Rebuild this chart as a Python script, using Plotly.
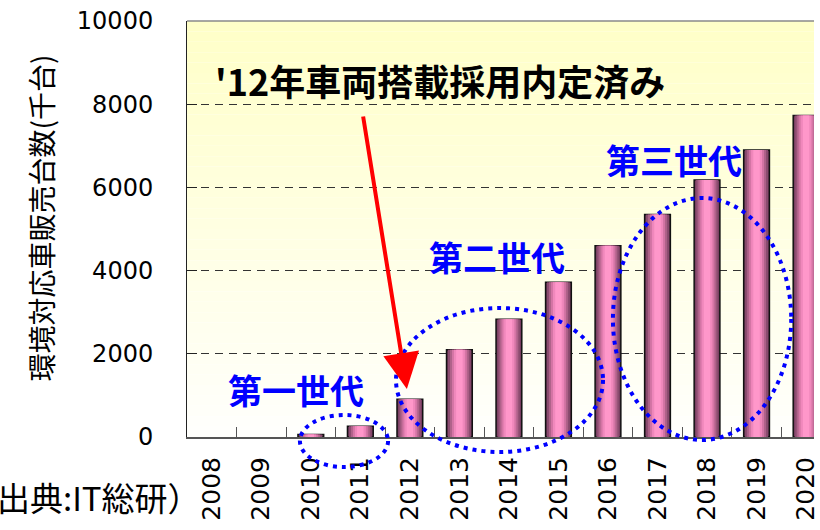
import plotly.graph_objects as go

years = ["2008", "2009", "2010", "2011", "2012", "2013", "2014",
         "2015", "2016", "2017", "2018", "2019", "2020"]
sales = [0, 0, 60, 260, 910, 2100, 2830, 3720, 4600, 5350, 6180, 6900, 7730]
y_ticks = [0, 2000, 4000, 6000, 8000, 10000]
y_tick_text = ["0", "2000", "4000", "6000", "8000", "10000"]

y_title = "環境対応車販売台数(千台)"
note_text = "'12年車両搭載採用内定済み"
gen_labels = ["第一世代", "第二世代", "第三世代"]
source_text = "（出典:IT総研）"

# plot-area geometry (pixels)
L, T, B, W, H = 187, 21, 437, 820, 530
PW, PH = W - L, B - T


def px(xp):
    return (xp - L) / PW


def py(yp):
    return (B - yp) / PH


fig = go.Figure()

# cylinder-like shading made of overlaid bars
outline_w = [0 if v == 0 else 1.5 for v in sales]
layers = [(0.52, "#70395a"), (0.46, "#8c4c70"), (0.38, "#b0628a"),
          (0.30, "#d475a5"), (0.22, "#f088bc"), (0.13, "#ff97ca")]
for i, (w, c) in enumerate(layers):
    fig.add_trace(go.Bar(
        x=years, y=sales, width=w,
        marker=dict(color=c,
                    line=dict(color="#111111" if i == 0 else c,
                              width=outline_w if i == 0 else 0)),
        hoverinfo="skip" if i else "x+y", showlegend=False))

shapes = []
# light yellow -> white gradient background
n = 40
top = (255, 255, 200)
bot = (255, 255, 252)
for k in range(n):
    t = k / (n - 1)
    c = tuple(round(top[j] + (bot[j] - top[j]) * t) for j in range(3))
    shapes.append(dict(type="rect", xref="paper", yref="paper",
                       x0=0, x1=1, y0=1 - (k + 1) / n, y1=1 - k / n,
                       line=dict(width=0), fillcolor="rgb(%d,%d,%d)" % c,
                       layer="below"))
# top frame line
shapes.append(dict(type="line", xref="paper", yref="paper", x0=0, x1=1,
                   y0=1, y1=1, line=dict(color="#8a8a8a", width=1.5)))

# dotted ellipses
ell = [(301, 390, 415, 467), (398, 607, 308, 452), (617, 797, 198, 440)]
for (a, b, c, d) in ell:
    shapes.append(dict(type="circle", xref="paper", yref="paper",
                       x0=px(a), x1=px(b), y0=py(d), y1=py(c),
                       line=dict(color="#0000ff", width=4, dash="4px,5px")))

annotations = [
    dict(xref="paper", yref="paper", x=px(213), y=py(80), xanchor="left",
         yanchor="middle", text=note_text, showarrow=False,
         font=dict(family="Noto Sans CJK JP", size=36, color="#000000",
                   weight="bold")),
    dict(xref="paper", yref="paper", x=px(409), y=py(389), text="",
         showarrow=True, ax=365 - 409, ay=115 - 389, arrowcolor="#ff0000",
         arrowwidth=4, arrowhead=2, arrowsize=1.8),
    dict(xref="paper", yref="paper", x=px(40), y=py(218), textangle=-90,
         xanchor="center", yanchor="middle",
         text=y_title, showarrow=False,
         font=dict(family="Noto Sans CJK JP", size=28, color="#000000")),
    dict(xref="paper", yref="paper", x=px(203), y=py(497), xanchor="right",
         yanchor="middle", text=source_text, showarrow=False,
         font=dict(family="Noto Sans CJK JP", size=33, color="#000000")),
]
gen_pos = [(297, 389), (500, 256), (679, 159)]
for lab, (gx, gy) in zip(gen_labels, gen_pos):
    annotations.append(dict(xref="paper", yref="paper", x=px(gx), y=py(gy),
                            xanchor="center", yanchor="middle",
                            text=lab, showarrow=False,
                            font=dict(family="Noto Sans CJK JP", size=34,
                                      color="#0000ff", weight="bold")))

fig.update_layout(
    width=W, height=H, margin=dict(l=L, r=0, t=T, b=H - B, pad=0),
    barmode="overlay", paper_bgcolor="white", plot_bgcolor="white",
    shapes=shapes, annotations=annotations, showlegend=False,
    font=dict(family="DejaVu Sans", size=24, color="#000000"),
)
fig.update_xaxes(type="category", range=[-0.5, 12.16], tickangle=-90,
                 ticks="inside", ticklen=10, tickcolor="#555555",
                 tickson="boundaries", showline=True, linecolor="#555555",
                 linewidth=2, showgrid=False, ticklabelstandoff=8,
                 tickfont=dict(family="DejaVu Sans", size=25))
fig.update_yaxes(range=[0, 10000], tickvals=y_ticks, ticktext=y_tick_text,
                 ticks="inside",
                 ticklen=10, tickcolor="#222222", showline=True,
                 linecolor="#222222", linewidth=1, showgrid=True,
                 gridcolor="#333333", griddash="8px,6px", gridwidth=1,
                 zeroline=False, ticklabelstandoff=28,
                 tickfont=dict(family="DejaVu Sans", size=24))

fig.write_html("out.html")
